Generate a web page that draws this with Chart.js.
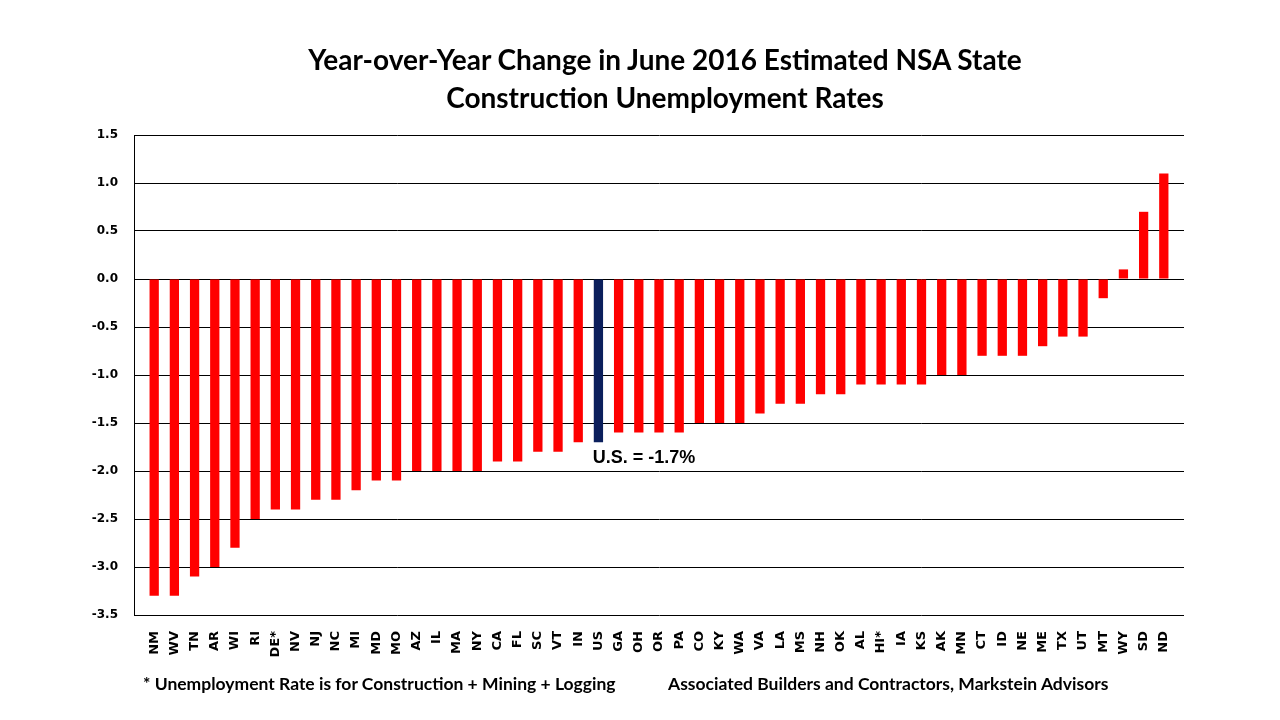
<!DOCTYPE html>
<html>
<head>
<meta charset="utf-8">
<script src="https://cdn.jsdelivr.net/npm/chart.js@4"></script>
<style>
  html, body { margin: 0; padding: 0; background: #fff; }
  #wrap { position: relative; width: 1280px; height: 720px; }
  #chart { position: absolute; left: 0; top: 0; }
  .title { position: absolute; left: 0; width: 1330px; text-align: center; font-family: Lato, "Open Sans", sans-serif; font-weight: bold; font-size: 28px; color: #000; white-space: nowrap; }
  .note { position: absolute; top: 673px; font-family: Lato, "Open Sans", sans-serif; font-weight: bold; font-size: 17.5px; color: #000; white-space: nowrap; }
</style>
</head>
<body>
<div id="wrap">
  <canvas id="chart" width="1280" height="720"></canvas>
  <div class="title" style="top:42px;">Year-over-Year Change in June 2016 Estimated NSA State</div>
  <div class="title" style="top:80px;">Construction Unemployment Rates</div>
  <div class="note" style="left:143px;">* Unemployment Rate is for Construction + Mining + Logging</div>
  <div class="note" style="left:668px;">Associated Builders and Contractors, Markstein Advisors</div>
</div>
<script>
const states = ["NM","WV","TN","AR","WI","RI","DE*","NV","NJ","NC","MI","MD","MO","AZ","IL","MA","NY","CA","FL","SC","VT","IN","US","GA","OH","OR","PA","CO","KY","WA","VA","LA","MS","NH","OK","AL","HI*","IA","KS","AK","MN","CT","ID","NE","ME","TX","UT","MT","WY","SD","ND"];
const changes = [-3.3,-3.3,-3.1,-3.0,-2.8,-2.5,-2.4,-2.4,-2.3,-2.3,-2.2,-2.1,-2.1,-2.0,-2.0,-2.0,-2.0,-1.9,-1.9,-1.8,-1.8,-1.7,-1.7,-1.6,-1.6,-1.6,-1.6,-1.5,-1.5,-1.5,-1.4,-1.3,-1.3,-1.2,-1.2,-1.1,-1.1,-1.1,-1.1,-1.0,-1.0,-0.8,-0.8,-0.8,-0.7,-0.6,-0.6,-0.2,0.1,0.7,1.1];
const yTicks = [1.5,1.0,0.5,0.0,-0.5,-1.0,-1.5,-2.0,-2.5,-3.0,-3.5];
const usLabel = "U.S. = -1.7%";
const usIndex = states.indexOf("US");

const points = states.map((s, i) => ({ x: i, y: changes[i] }));
const colors = states.map(s => s === "US" ? "#0b1f5c" : "#ff0000");

const usAnnotation = {
  id: 'usAnnotation',
  afterDatasetsDraw(chart) {
    const ctx = chart.ctx;
    const bar = chart.getDatasetMeta(0).data[usIndex];
    const y = chart.scales.y.getPixelForValue(changes[usIndex]);
    ctx.save();
    ctx.font = 'bold 18px "Liberation Sans", Arial, sans-serif';
    ctx.fillStyle = '#000';
    ctx.textAlign = 'left';
    ctx.textBaseline = 'middle';
    ctx.fillText(usLabel, bar.x - bar.width / 2 - 1, y + 16);
    ctx.restore();
  }
};

new Chart(document.getElementById('chart'), {
  type: 'bar',
  data: {
    datasets: [{
      data: points,
      backgroundColor: colors,
      borderWidth: 0,
      barPercentage: 0.46,
      categoryPercentage: 1
    }]
  },
  options: {
    responsive: false,
    animation: false,
    layout: { padding: { left: 0, top: 135, right: 96, bottom: 0 } },
    plugins: { legend: { display: false }, tooltip: { enabled: false }, title: { display: false } },
    scales: {
      x: {
        type: 'linear',
        offset: false,
        min: -1,
        max: states.length,
        grid: { display: false, offset: false },
        border: { display: false },
        afterFit(scale) { scale.height = 105; },
        ticks: {
          stepSize: 1,
          autoSkip: false,
          minRotation: 90,
          maxRotation: 90,
          padding: 8,
          color: '#000',
          font: { family: '"DejaVu Sans", Verdana, sans-serif', weight: 'bold', size: 13 },
          callback: (v) => (Number.isInteger(v) && v >= 0 && v < states.length) ? states[v] : ''
        }
      },
      y: {
        min: yTicks[yTicks.length - 1],
        max: yTicks[0],
        afterFit(scale) { scale.width = 134; },
        afterBuildTicks(scale) { scale.ticks = yTicks.map(v => ({ value: v })); },
        grid: { color: '#000', lineWidth: 1, drawTicks: false },
        border: { display: true, color: '#000', width: 1 },
        ticks: {
          padding: 16,
          color: '#000',
          font: { family: '"DejaVu Sans", Verdana, sans-serif', weight: 'bold', size: 12 },
          callback: (v) => Number(v).toFixed(1)
        }
      }
    }
  },
  plugins: [usAnnotation]
});
</script>
</body>
</html>
